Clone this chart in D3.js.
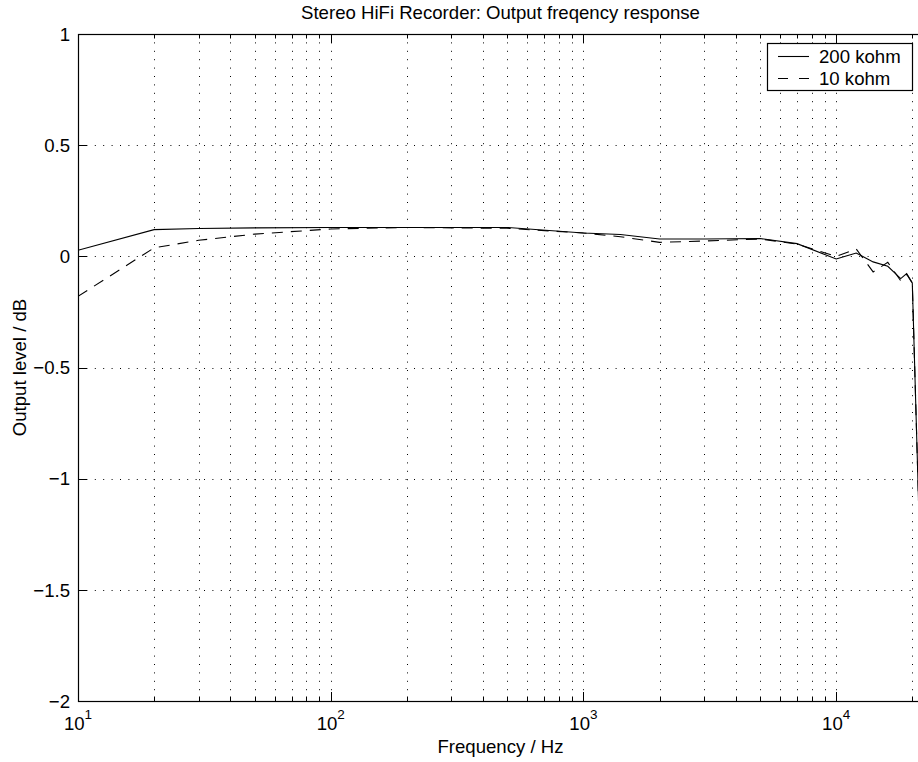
<!DOCTYPE html>
<html>
<head>
<meta charset="utf-8">
<script src="https://cdn.jsdelivr.net/npm/d3@7"></script>
<style>
  html, body { margin: 0; padding: 0; background: #fff; }
  svg { display: block; font-family: "Liberation Sans", Arial, Helvetica, sans-serif; }
</style>
</head>
<body>
<svg id="chart" width="918" height="762"></svg>
<script>
// ---- data ----
const title = "Stereo HiFi Recorder: Output freqency response";
const xLabel = "Frequency / Hz";
const yLabel = "Output level / dB";
const freqs = [10, 20, 30, 50, 100, 200, 500, 1000, 1400, 2000, 3000, 5000, 7000, 10000, 12000, 14000, 16000, 18000, 19000, 20000, 22050];
const level200k = [0.027, 0.12, 0.125, 0.128, 0.13, 0.13, 0.13, 0.105, 0.098, 0.078, 0.078, 0.08, 0.057, -0.012, 0.015, -0.025, -0.045, -0.10, -0.078, -0.12, -1.8];
const level10k  = [-0.18, 0.038, 0.072, 0.10, 0.123, 0.13, 0.126, 0.105, 0.088, 0.063, 0.069, 0.078, 0.055, 0.0, 0.033, -0.07, -0.027, -0.11, -0.08, -0.12, -1.8];
const seriesNames = ["200 kohm", "10 kohm"];
const xMajorExps = [1, 2, 3, 4];
const yTicks = [1, 0.5, 0, -0.5, -1, -1.5, -2];
const xDomain = [10, 22050];
const yDomain = [-2, 1];

// ---- layout ----
const L = 78, R = 923, T = 34, B = 701;
const FS = 18.6;
const svg = d3.select("#chart");
svg.append("rect").attr("width", 918).attr("height", 762).attr("fill", "#fff");

const x = d3.scaleLog().domain(xDomain).range([L, R]);
const y = d3.scaleLinear().domain(yDomain).range([B, T]);

// grid positions
const majors = xMajorExps.map(e => Math.pow(10, e));
const minors = [];
xMajorExps.forEach(e => { for (let m = 2; m <= 9; m++) { const f = m * Math.pow(10, e); if (f <= xDomain[1]) minors.push(f); } });
const xGrid = majors.filter(f => f > xDomain[0]).concat(minors);

const grid = svg.append("g").attr("stroke", "#000").attr("stroke-width", 1).attr("stroke-dasharray", "1,7.4");
grid.selectAll("line.vx").data(xGrid).join("line")
  .attr("x1", d => Math.round(x(d)) + 0.5).attr("x2", d => Math.round(x(d)) + 0.5)
  .attr("y1", T).attr("y2", B);
grid.selectAll("line.hy").data(yTicks.filter(v => v < 1 && v > -2)).join("line")
  .attr("x1", L).attr("x2", R)
  .attr("y1", d => Math.round(y(d)) + 0.5).attr("y2", d => Math.round(y(d)) + 0.5);

// ticks (inside, bottom and top)
const tk = svg.append("g").attr("stroke", "#000").attr("stroke-width", 1);
const allTicks = majors.map(f => ({f, len: 9})).concat(minors.map(f => ({f, len: 4.5})));
tk.selectAll("line.b").data(allTicks).join("line")
  .attr("x1", d => Math.round(x(d.f)) + 0.5).attr("x2", d => Math.round(x(d.f)) + 0.5)
  .attr("y1", B).attr("y2", d => B - d.len);
tk.selectAll("line.t").data(allTicks).join("line")
  .attr("x1", d => Math.round(x(d.f)) + 0.5).attr("x2", d => Math.round(x(d.f)) + 0.5)
  .attr("y1", T).attr("y2", d => T + d.len);
tk.selectAll("line.l").data(yTicks).join("line")
  .attr("x1", L).attr("x2", L + 9)
  .attr("y1", d => Math.round(y(d)) + 0.5).attr("y2", d => Math.round(y(d)) + 0.5);

// box
svg.append("rect").attr("x", L + 0.5).attr("y", T + 0.5).attr("width", R - L).attr("height", B - T)
  .attr("fill", "none").attr("stroke", "#000").attr("stroke-width", 1.2);

// y tick labels
svg.append("g").selectAll("text").data(yTicks).join("text")
  .attr("x", L - 8).attr("y", d => y(d)).attr("dy", "0.36em")
  .attr("text-anchor", "end").attr("font-size", FS).attr("fill", "#000")
  .text(d => d3.format("")(d).replace("-", "\u2212"));

// x tick labels with superscripts
const xl = svg.append("g").selectAll("text").data(majors.concat([10]).filter((v,i,a)=>a.indexOf(v)===i)).join("text")
  .attr("x", d => x(d)).attr("y", 730).attr("text-anchor", "middle")
  .attr("font-size", FS).attr("fill", "#000");
xl.append("tspan").text("10");
xl.append("tspan").attr("font-size", 13.5).attr("dy", -11).text(d => Math.round(Math.log10(d)));

// lines
const clip = svg.append("clipPath").attr("id", "clip").append("rect")
  .attr("x", L).attr("y", T).attr("width", R - L).attr("height", B - T);
const line = d3.line().x(d => x(d[0])).y(d => y(d[1]));
const plot = svg.append("g").attr("clip-path", "url(#clip)");
plot.append("path").datum(freqs.map((f, i) => [f, level200k[i]]))
  .attr("d", line).attr("fill", "none").attr("stroke", "#000").attr("stroke-width", 1.1);
plot.append("path").datum(freqs.map((f, i) => [f, level10k[i]]))
  .attr("d", line).attr("fill", "none").attr("stroke", "#000").attr("stroke-width", 1.1)
  .attr("stroke-dasharray", "11,8");

// legend
const lg = svg.append("g");
lg.append("rect").attr("x", 767.5).attr("y", 43.5).attr("width", 145).attr("height", 47)
  .attr("fill", "#fff").attr("stroke", "#000").attr("stroke-width", 1.2);
const rows = [{name: seriesNames[0], dash: null, y: 56.5}, {name: seriesNames[1], dash: "10,11", y: 78.5}];
lg.selectAll("line").data(rows).join("line")
  .attr("x1", 778).attr("x2", 809).attr("y1", d => d.y).attr("y2", d => d.y)
  .attr("stroke", "#000").attr("stroke-width", 1.1).attr("stroke-dasharray", d => d.dash);
lg.selectAll("text").data(rows).join("text")
  .attr("x", 819).attr("y", d => d.y + 6.5).attr("font-size", FS).attr("fill", "#000")
  .text(d => d.name);

// title and axis labels
svg.append("text").attr("x", (L + R) / 2).attr("y", 19).attr("text-anchor", "middle")
  .attr("font-size", FS).attr("fill", "#000").text(title);
svg.append("text").attr("x", (L + R) / 2).attr("y", 753).attr("text-anchor", "middle")
  .attr("font-size", FS).attr("fill", "#000").text(xLabel);
svg.append("text").attr("transform", `translate(26,${(T + B) / 2}) rotate(-90)`).attr("text-anchor", "middle")
  .attr("font-size", FS).attr("fill", "#000").text(yLabel);
</script>
</body>
</html>
